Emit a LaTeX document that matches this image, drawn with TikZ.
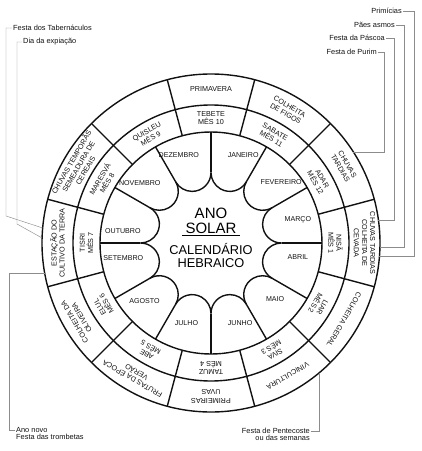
\documentclass[tikz,border=0pt]{standalone}
\usepackage{fontspec}
\setmainfont{Liberation Sans}
\usetikzlibrary{calc, positioning}
\definecolor{Ink} {HTML}{111111}
\definecolor{Lead}{HTML}{8C8C8C}
\tikzset{
  ring/.style={draw=Ink, line width=1.4pt},
  seg/.style={
    font=\fontsize{7.2}{8.1}\selectfont, text=Ink,
    align=center, inner sep=0pt,
  },
  mes/.style={font=\fontsize{7.1}{8}\selectfont, text=Ink, inner sep=0pt},
  fest/.style={font=\fontsize{7.4}{9.5}\selectfont, text=Ink, inner sep=1pt},
  lead/.style={draw=Lead, line width=0.45pt},
}

\begin{document}
\begin{tikzpicture}[x=1pt,y=1pt]
  \useasboundingbox (-211,-208) rectangle (211,243);
  \def\Ro{169} \def\Rm{138} \def\Ri{111}
  \def\Rc{73}  \def\Rr{18.9} \def\Rd{70.51}

  % rings
  \draw[ring] (0,0) circle (\Ro);
  \draw[ring] (0,0) circle (\Rm);
  \draw[ring] (0,0) circle (\Ri);
  \foreach \k in {0,...,11}{
    \draw[ring] ({15+30*\k}:\Ri) -- ({15+30*\k}:\Ro);
  }

  % solar months: dividers and rounded tips
  \foreach \k in {0,...,11}{
    \pgfmathsetmacro\f{15+30*\k}
    \draw[ring] ({\f-15}:\Rd) -- ({\f-15}:\Ri);
    \draw[ring] ($(\f:\Rc)+({\f-105}:\Rr)$)
      arc[start angle=\f-105, end angle=\f-255, radius=\Rr];
  }

  % seasons
  \foreach \a/\t in {90/PRIMAVERA, 60/{COLHEITA\\DE FIGOS},
      30/{CHUVAS\\TARDIAS}, 0/{CHUVAS TARDIAS\\COLHEITA DE\\CEVADA},
      -30/{COLHEITA GERAL}, -60/VINICULTURA, -90/{PRIMEIRAS\\UVAS},
      -120/{FRUTAS DA ÉPOCA\\VERÃO}, -150/{COLHEITA DA\\OLIVEIRA},
      180/{ESTAÇÃO DO\\CULTIVO DA TERRA},
      150/{CHUVAS TEMPORÃS\\SEMEADURA DE\\CEREAIS}}{
    \pgfmathsetmacro\b{\a-90}
    \node[seg, rotate=\b] (sea\a) at (\a:153.5) {\t};
  }

  % hebrew months
  \foreach \a/\t [count=\n] in {0/NISÃ, -30/LIAR, -60/SIVA, -90/TAMUZ,
      -120/ABE, -150/ELUL, 180/TISRI, 150/MARESVÁ, 120/QUISLEU,
      90/TEBETE, 60/SABATE, 30/ADAR}{
    \pgfmathsetmacro\b{\a-90}
    \node[seg, rotate=\b] (heb\n) at (\a:124.5) {\t\\MÊS \n};
  }

  % solar months
  \foreach \a/\r/\t in {110/94/DEZEMBRO, 70/94/JANEIRO, 41/93/FEVEREIRO,
      15/90/MARÇO, -9/88/ABRIL, -41/85/MAIO, -70/85/JUNHO, -107/84/JULHO,
      -139/88/AGOSTO, -170/89/SETEMBRO, 172/89/OUTUBRO, 140/93/NOVEMBRO}{
    \node[mes] (mon\a) at (\a:\r) {\t};
  }

  % centre
  \node[font=\fontsize{15}{15}\selectfont] (ano)   at (0,30) {ANO};
  \node[font=\fontsize{15}{15}\selectfont] (solar) at (0,15) {SOLAR};
  \draw[line width=1.4pt] ([yshift=-2.5pt]solar.base west)
    -- ([yshift=-2.5pt]solar.base east);
  \node[font=\fontsize{12.8}{13}\selectfont] (cal) at (0,-6)  {CALENDÁRIO};
  \node[font=\fontsize{12.8}{13}\selectfont] (hbr) at (0,-20) {HEBRAICO};

  % feasts, left
  \node[fest, anchor=west] (tab) at (-199,215) {Festa dos Tabernáculos};
  \node[fest, anchor=west] (exp) at (-189,201) {Dia da expiação};
  \node[fest, anchor=west] (ano1) at (-196,-187) {Ano novo};
  \node[fest, anchor=north west, inner ysep=0pt] (trom)
    at (ano1.south west) {Festa das trombetas};
  \coordinate (tabP) at (174.9:\Ro);
  \coordinate (expP) at (178.3:\Ro);
  \coordinate (anoP) at (190.2:\Ro);
  \draw[lead] (tab.west) -- ++(-6,0) |- ++(0,-188) -- (tabP);
  \draw[lead] (exp.west) -- ++(-5,0) -- ++(0,-182) -- (expP);
  \draw[lead] (ano1.west) -- ++(-6,0) |- (anoP);

  % feasts, right
  \node[fest, anchor=east] (pri) at (192,232) {Primícias};
  \node[fest, anchor=east] (pae) at (185,218) {Pães asmos};
  \node[fest, anchor=east] (pas) at (175,205) {Festa da Páscoa};
  \node[fest, anchor=east] (pur) at (167,191) {Festa de Purim};
  \coordinate (priP) at (-4.4:\Ro);
  \coordinate (paeP) at (-1.4:\Ro);
  \coordinate (pasP) at (7.8:\Ro);
  \coordinate (purP) at (32.6:\Ro);
  \draw[lead] (pri.east) -- ++(11,0) |- (priP);
  \draw[lead] (pae.east) -- ++(8,0) |- (paeP);
  \draw[lead] (pas.east) -- ++(8,0) |- (pasP);
  \draw[lead] (pur.east) -- ++(6,0) |- (purP);

  % feasts, bottom right
  \node[fest, anchor=east] (pen) at (100,-188) {Festa de Pentecoste};
  \node[fest, anchor=north east, inner ysep=0pt] (sem)
    at (pen.south east) {ou das semanas};
  \coordinate (penP) at (-50.3:\Ro);
  \draw[lead] (pen.east) -| (penP);
\end{tikzpicture}
\end{document}
